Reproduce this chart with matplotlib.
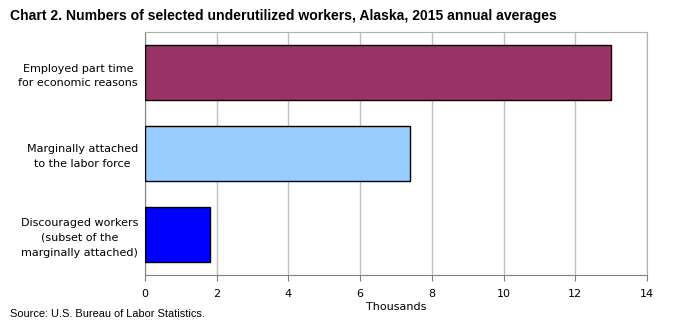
import matplotlib.pyplot as plt
import numpy as np

categories = ['Employed part time\nfor economic reasons',
              'Marginally attached\nto the labor force',
              'Discouraged workers\n(subset of the\nmarginally attached)']
values = [13.0, 7.4, 1.8]
colors = ['#993366', '#99ccff', '#0000ff']
xticks = [0, 2, 4, 6, 8, 10, 12, 14]

fig = plt.figure(figsize=(6.73, 3.34), dpi=100)
ax = fig.add_axes([145/673, 59/334, 502/673, 243/334])

y = np.arange(len(categories))
ax.barh(y, values, height=0.68, color=colors, edgecolor='black', linewidth=1.0, zorder=3)
ax.set_ylim(len(categories) - 0.5, -0.5)
ax.set_xlim(0, 14)
ax.set_xticks(xticks)
ax.set_xticklabels([str(t) for t in xticks], fontsize=8, family='DejaVu Sans')
ax.set_yticks(y)
ax.set_yticklabels(categories, fontsize=8, family='DejaVu Sans', multialignment='center',
                   linespacing=1.6)
ax.tick_params(axis='y', length=0, pad=5)
ax.tick_params(axis='x', length=4, color='#808080', pad=6)
ax.grid(axis='x', color='#c0c0c0', linewidth=1, zorder=0)

for s in ['top', 'right']:
    ax.spines[s].set_color('#b0b0b0')
for s in ['left', 'bottom']:
    ax.spines[s].set_color('#808080')

ax.set_xlabel('Thousands', fontsize=8, family='DejaVu Sans', labelpad=2)

fig.text(10/673, 1 - 16/334, 'Chart 2. Numbers of selected underutilized workers, Alaska, 2015 annual averages',
         fontsize=10.1, fontweight='bold', family='Liberation Sans', va='center', ha='left')
fig.text(10/673, 1 - 314/334, 'Source: U.S. Bureau of Labor Statistics.',
         fontsize=7.9, family='Liberation Sans', va='center', ha='left')

fig.savefig('out.png', dpi=100)
